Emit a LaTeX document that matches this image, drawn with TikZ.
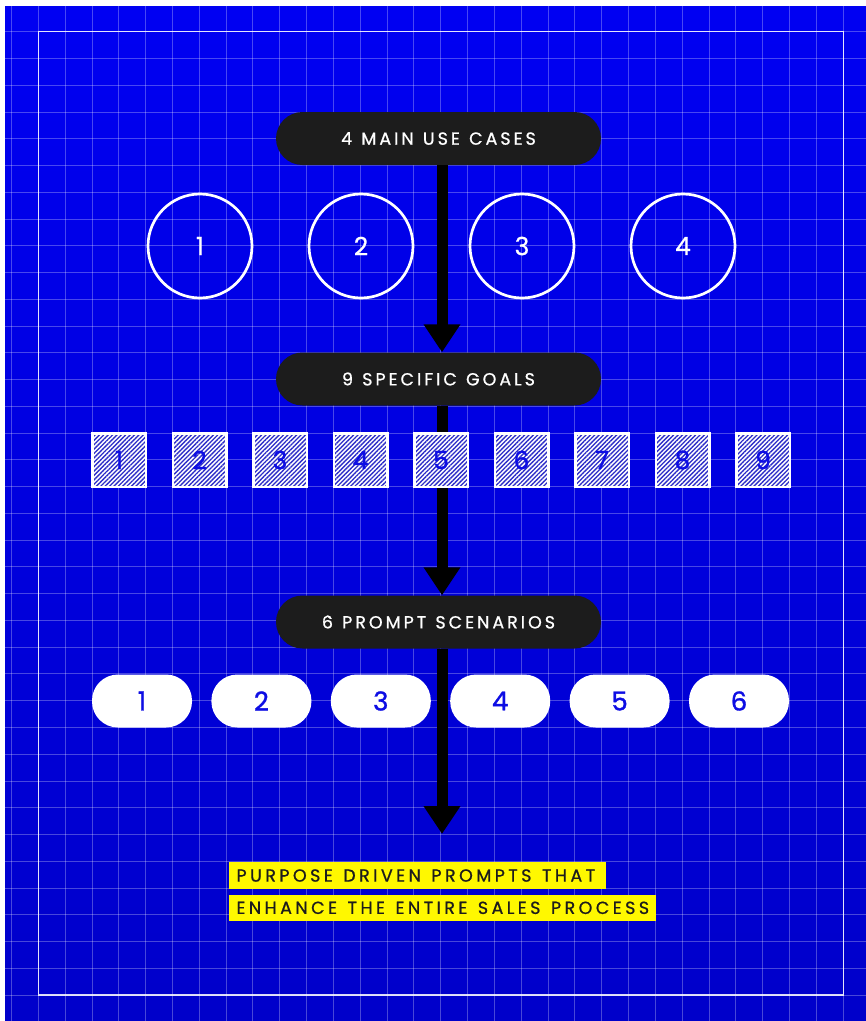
\documentclass[tikz,border=0pt]{standalone}
\usepackage{fontspec}
\setmainfont{Poppins}
\newfontfamily\spaced[LetterSpace=17,WordSpace=1.2,FakeBold=0.8]{Poppins}
\newfontfamily\spacedy[LetterSpace=19.6,WordSpace=1.3,FakeBold=0.8]{Poppins}
\newfontfamily\heavy[FakeBold=1.2]{Poppins}
\newfontfamily\medium[FakeBold=0.6]{Poppins}
\usetikzlibrary{arrows.meta,patterns.meta}
\definecolor{bgtop}{RGB}{0,0,242}
\definecolor{bgbot}{RGB}{0,0,202}
\definecolor{pilldark}{RGB}{28,28,28}
\definecolor{ink}{RGB}{14,14,228}
\definecolor{hatch}{RGB}{45,45,200}
\definecolor{hl}{RGB}{255,248,0}
\begin{document}
\begin{tikzpicture}[x=1pt,y=-1pt,
  header/.style={fill=pilldark, rounded corners=26.5pt, minimum width=325pt, minimum height=53pt, inner sep=0pt, text=white, font=\spaced\fontsize{17.5}{20}\selectfont},
  usecase/.style={circle, draw=white, line width=2.7pt, minimum size=104pt, inner sep=0pt, text=white, font=\medium\fontsize{25}{25}\selectfont},
  goal/.style={rectangle, preaction={fill=white}, pattern={Lines[angle=45,distance=3.1pt,line width=1.35pt]}, pattern color=hatch, draw=white, line width=2.5pt, minimum size=53.5pt, inner sep=0pt, text=ink, font=\heavy\fontsize{25}{25}\selectfont},
  scen/.style={fill=white, rounded corners=26pt, minimum width=100pt, minimum height=53pt, inner sep=0pt, text=ink, font=\heavy\fontsize{26}{26}\selectfont},
  flow/.style={line width=11pt, draw=black, -{Triangle[width=35pt,length=28pt]}},
  hilite/.style={fill=hl, text=pilldark, anchor=north west, inner xsep=8pt, inner ysep=0pt, minimum height=26.6pt, font=\spacedy\fontsize{17.5}{20}\selectfont},
  gridline/.style={white, opacity=0.28, line width=0.9pt},
  frameline/.style={white, opacity=0.85, line width=1.4pt}
]
\useasboundingbox (0,0) rectangle (866,1021);
\fill[white] (0,0) rectangle (866,1021);
\shade[top color=bgtop, bottom color=bgbot] (5,6) rectangle (866,1021);
\foreach \i in {-1,...,30} \draw[gridline] ({38.3+26.83*\i},6) -- ({38.3+26.83*\i},1021);
\foreach \j in {0,...,36} \draw[gridline] (5,{31.7+26.76*\j}) -- (866,{31.7+26.76*\j});
\draw[frameline] (38.3,31.7) rectangle (843.3,995.1);

\node[header] (h1) at (438.5,138.5) {4 MAIN USE CASES};
\node[header] (h2) at (438.5,379) {9 SPECIFIC GOALS};
\node[header] (h3) at (438.5,622) {6 PROMPT SCENARIOS};
\coordinate (ax) at (442,0);
\coordinate (end) at (442,834);
\draw[flow] (h1.south -| ax) -- (h2.north -| ax);
\draw[flow] (h2.south -| ax) -- (h3.north -| ax);
\draw[flow] (h3.south -| ax) -- (end);

\foreach \n/\x in {1/200,2/361,3/522,4/683} \node[usecase] (c\n) at (\x,246) {\n};
\foreach \n in {1,...,9} \node[goal] (g\n) at ({119+80.5*(\n-1)},460) {\n};
\foreach \n in {1,...,6} \node[scen] (s\n) at ({142+119.4*(\n-1)},701) {\n};

\node[hilite] (t1) at (228.3,862) {\makebox[361pt][l]{PURPOSE DRIVEN PROMPTS THAT}};
\node[hilite] (t2) at (228.3,894.3) {\makebox[411pt][l]{ENHANCE THE ENTIRE SALES PROCESS}};
\end{tikzpicture}
\end{document}
